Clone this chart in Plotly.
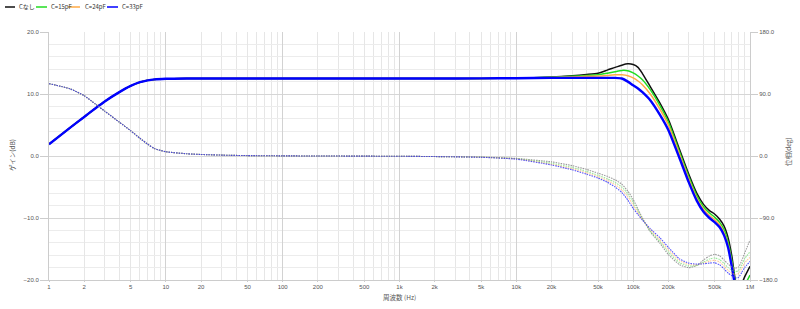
import plotly.graph_objects as go

# ---------------- data ----------------
freq = [1, 1.5, 2, 2.5, 3, 4, 5, 6, 7, 8,
        10, 15, 20, 35, 50, 100, 200, 500, 1000, 2000,
        5000, 10000, 20000, 30000, 40000, 50000, 60000, 70000, 80000, 90000,
        100000, 110000, 120000, 140000, 170000, 200000, 250000, 300000, 350000, 400000,
        450000, 500000, 550000, 600000, 650000, 700000, 750000, 800000, 850000, 900000,
        1000000]

series_names = ["Cなし", "C=15pF", "C=24pF", "C=33pF"]

# gain (dB), common part 1 Hz .. 10 kHz
gain_common = [1.9, 4.5, 6.3, 7.7, 8.8, 10.3, 11.3, 11.9, 12.2, 12.35,
               12.45, 12.5, 12.5, 12.5, 12.5, 12.5, 12.5, 12.5, 12.5, 12.5,
               12.52, 12.55]
# gain (dB), 20 kHz .. 1 MHz
gain_hf_none = [12.75, 12.95, 13.15, 13.35, 13.85, 14.3, 14.65, 14.86, 14.75, 14.3,
                13.3, 11.2, 8.5, 5.9, 1.0, -3.0, -6.0, -7.8, -8.8, -9.4,
                -10.2, -11.3, -13.2, -16.2, -20.0, -21.3, -20.6, -19.5, -17.8]
gain_hf_15 = [12.7, 12.85, 13.0, 13.1, 13.35, 13.6, 13.8, 13.75, 13.4, 12.9,
              12.3, 10.7, 8.1, 5.5, 0.6, -3.4, -6.4, -8.2, -9.2, -9.9,
              -10.7, -11.9, -13.9, -16.9, -20.4, -22.0, -21.8, -20.9, -19.2]
gain_hf_24 = [12.65, 12.75, 12.85, 12.9, 13.0, 13.1, 13.1, 12.95, 12.6, 12.1,
              11.5, 10.0, 7.5, 5.0, 0.2, -3.8, -6.8, -8.6, -9.6, -10.3,
              -11.1, -12.4, -14.4, -17.4, -20.8, -22.6, -22.6, -21.8, -20.2]
gain_hf_33 = [12.6, 12.6, 12.6, 12.6, 12.6, 12.6, 12.5, 12.0, 11.4, 10.9,
              10.3, 9.0, 6.6, 4.2, -0.4, -4.3, -7.2, -9.0, -10.0, -10.7,
              -11.5, -12.8, -14.8, -17.9, -21.2, -23.0, -23.2, -22.5, -21.0]

# phase (deg), common part 1 Hz .. 2 kHz
phase_common = [105, 97.8, 87.6, 75.3, 65.1, 49.1, 36.7, 25.8, 17.1, 10.8,
                6.2, 3.3, 2.2, 1.0, 0.6, 0.2, 0.0, -0.2, -0.4, -0.8]
# phase (deg), 5 kHz .. 1 MHz
phase_hf_none = [-1.6, -3.5, -8.5, -14, -19.5, -25, -29.5, -34.5, -41, -51,
                 -63, -77, -90, -110, -127, -143, -158, -162, -159, -151,
                 -145, -142.5, -145, -151, -157, -161, -163, -161, -152, -141,
                 -122]
phase_hf_15 = [-1.7, -3.9, -10.5, -16.5, -22.5, -28, -33, -38.5, -45, -55,
               -67, -80, -91, -109, -124.5, -139.5, -155, -159.5, -159, -154,
               -149.5, -148, -150.5, -156, -162, -166, -168, -166, -158, -149,
               -139]
phase_hf_24 = [-1.8, -4.2, -12, -18.5, -24.5, -30, -35.5, -41.5, -49, -59,
               -71, -82.5, -92, -107, -122, -136, -152, -157.5, -158, -155.5,
               -152.5, -151.5, -154, -160, -166, -170, -172, -170.5, -163, -155,
               -147]
phase_hf_33 = [-1.9, -4.6, -13, -20, -26.5, -32, -38, -45, -53, -64,
               -76, -85, -93, -105.5, -119, -132.5, -149.5, -155.5, -157, -156.5,
               -155.5, -155, -158, -164, -170, -174, -177, -176, -169, -162,
               -153]

gains = [gain_common + g for g in (gain_hf_none, gain_hf_15, gain_hf_24, gain_hf_33)]
phases = [phase_common + p for p in (phase_hf_none, phase_hf_15, phase_hf_24, phase_hf_33)]

x_tick_vals = [1, 2, 5, 10, 20, 50, 100, 200, 500, 1000, 2000, 5000,
               10000, 20000, 50000, 100000, 200000, 500000, 1000000]
x_tick_text = ["1", "2", "5", "10", "20", "50", "100", "200", "500", "1k", "2k", "5k",
               "10k", "20k", "50k", "100k", "200k", "500k", "1M"]
x_minor_vals = [m * 10 ** k for k in range(6) for m in (3, 4, 6, 7, 8, 9)]
x_decades = [10 ** k for k in range(1, 6)]

# ---------------- styles ----------------
gain_colors = ["#111111", "#22dd22", "#ffaa44", "#0000ff"]
gain_widths = [1.5, 1.5, 1.5, 2.4]
phase_colors = ["rgba(130,130,130,0.8)", "rgba(90,220,90,0.6)",
                "rgba(255,170,90,0.6)", "rgba(40,40,255,0.8)"]

FONT = "Liberation Sans, Noto Sans CJK JP, sans-serif"
JFONT = "Noto Sans CJK JP, Liberation Sans, sans-serif"
TXT = "#555555"

fig = go.Figure()

for name, ph, col in zip(series_names, phases, phase_colors):
    fig.add_trace(go.Scatter(x=freq, y=ph, name=name + " phase", yaxis="y2",
                             mode="lines", line=dict(color=col, width=1.1, dash="1.5px,1px",
                                                     shape="spline", smoothing=0.5),
                             showlegend=False, hoverinfo="skip"))

for name, g, col, w in zip(series_names, gains, gain_colors, gain_widths):
    fig.add_trace(go.Scatter(x=freq, y=g, name=name, mode="lines",
                             line=dict(color=col, width=w, shape="spline", smoothing=0.6),
                             showlegend=False))

# ---------------- layout ----------------
L, R, T, B = 49, 50, 32, 29
W, H = 800, 309
PW, PH = W - L - R, H - T - B


def px_to_paper(px, py):
    return (px - L) / PW, (H - B - py) / PH


fig.update_layout(
    width=W, height=H,
    margin=dict(l=L, r=R, t=T, b=B, pad=0),
    paper_bgcolor="white", plot_bgcolor="white",
    showlegend=False,
    font=dict(family=FONT, size=6, color=TXT),
    xaxis=dict(type="log", range=[0, 6], tickmode="array",
               tickvals=x_tick_vals, ticktext=x_tick_text,
               showgrid=True, gridcolor="#e6e6e6", gridwidth=1,
               minor=dict(tickmode="array", tickvals=x_minor_vals, showgrid=True,
                          gridcolor="#e6e6e6", ticks=""),
               ticks="outside", ticklen=1, tickcolor="#cccccc",
               showline=True, linecolor="#cccccc", linewidth=1,
               zeroline=False, tickfont=dict(size=6, color=TXT)),
    xaxis2=dict(type="log", range=[0, 6], overlaying="x", anchor="y",
                tickmode="array", tickvals=x_decades, showticklabels=False,
                showgrid=True, gridcolor="#d2d2d2", ticks="", showline=False,
                zeroline=False),
    yaxis=dict(range=[-20, 20], dtick=10, tick0=0, tickformat=".1f",
               showgrid=True, gridcolor="#d6d6d6",
               minor=dict(dtick=2, showgrid=True, gridcolor="#ececec", ticks=""),
               ticks="outside", ticklen=8, tickcolor="#cccccc",
               showline=True, linecolor="#cccccc", zeroline=False,
               tickfont=dict(size=6, color=TXT)),
    yaxis2=dict(range=[-180, 180], dtick=90, tick0=0, tickformat=".1f",
                overlaying="y", side="right", showgrid=False,
                ticks="outside", ticklen=7, tickcolor="#cccccc",
                showline=True, linecolor="#cccccc", zeroline=False,
                tickfont=dict(size=6, color=TXT)),
)

# dummy trace to activate xaxis2 grid
fig.add_trace(go.Scatter(x=[1], y=[None], xaxis="x2", showlegend=False,
                         hoverinfo="skip", mode="lines"))

annotations = []
ax, ay = px_to_paper(12, 155)
annotations.append(dict(x=ax, y=ay, xref="paper", yref="paper", text="ゲイン(dB)",
                        textangle=-90, showarrow=False, xanchor="center", yanchor="middle",
                        font=dict(family=JFONT, size=6.5, color=TXT)))
ax, ay = px_to_paper(788, 152)
annotations.append(dict(x=ax, y=ay, xref="paper", yref="paper", text="位相(deg)",
                        textangle=-90, showarrow=False, xanchor="center", yanchor="middle",
                        font=dict(family=JFONT, size=6.5, color=TXT)))
ax, ay = px_to_paper(400, 297)
annotations.append(dict(x=ax, y=ay, xref="paper", yref="paper", text="周波数 (Hz)",
                        showarrow=False, xanchor="center", yanchor="middle",
                        font=dict(family=JFONT, size=6.5, color=TXT)))

# manual legend
legend_line_px = [(5, 15), (36, 47), (68, 80), (107, 118)]
legend_text_px = [17, 49, 83, 120]
legend_y_px = 7
shapes = []
for (x0, x1), tx, name, col in zip(legend_line_px, legend_text_px, series_names, gain_colors):
    p0, py = px_to_paper(x0, legend_y_px)
    p1, _ = px_to_paper(x1, legend_y_px)
    shapes.append(dict(type="line", xref="paper", yref="paper", x0=p0, x1=p1,
                       y0=py, y1=py, line=dict(color=col, width=1.5)))
    pt, _ = px_to_paper(tx, legend_y_px)
    annotations.append(dict(x=pt, y=py, xref="paper", yref="paper", text=name,
                            xanchor="left", yanchor="middle", showarrow=False,
                            font=dict(family=JFONT, size=6, color="#333333")))

fig.update_layout(annotations=annotations, shapes=shapes)

fig.write_html("out.html")
